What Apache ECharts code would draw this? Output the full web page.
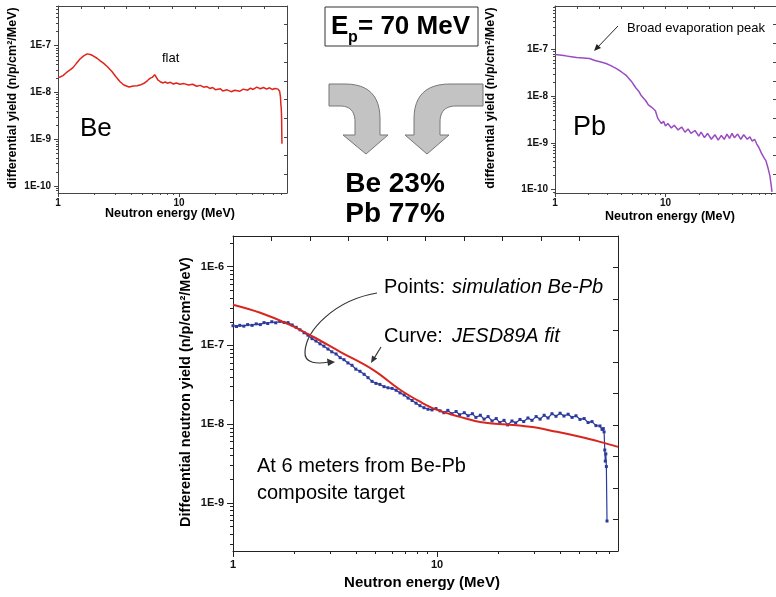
<!DOCTYPE html>
<html><head><meta charset="utf-8">
<script src="https://cdn.jsdelivr.net/npm/echarts@6/dist/echarts.min.js"></script>
<style>html,body{margin:0;padding:0;background:#fff}#c{width:776px;height:597px}</style>
</head><body><div id="c"></div>
<script>
// ---------- DATA ----------
// Be target spectrum (energy MeV, yield n/p/cm2/MeV)
const beE = [1.00,1.04,1.10,1.15,1.20,1.25,1.33,1.42,1.52,1.62,1.74,1.85,1.95,2.10,2.25,2.36,2.55,2.79,3.00,3.26,3.50,3.87,4.20,4.50,4.76,5.20,5.50,5.76,6.00,6.30,6.50,6.70,7.00,7.40,7.70,8.0,8.5,9.0,9.5,10.2,11,12,13,14,15,16,17,18,19,20,22,23,25,27,29,31.7,34,37,39,41,44,47,50,53,56,59,62,64,66,68,69,69.6,70,70.5,71];
const beY = [2.10e-8,2.15e-8,2.30e-8,2.55e-8,2.80e-8,3.00e-8,3.40e-8,4.20e-8,5.20e-8,6.00e-8,6.70e-8,6.50e-8,6.10e-8,5.40e-8,4.70e-8,4.30e-8,3.60e-8,2.80e-8,2.20e-8,1.70e-8,1.45e-8,1.31e-8,1.38e-8,1.40e-8,1.44e-8,1.60e-8,1.80e-8,2.00e-8,2.10e-8,2.40e-8,2.20e-8,1.85e-8,1.70e-8,1.60e-8,1.68e-8,1.58e-8,1.65e-8,1.52e-8,1.60e-8,1.50e-8,1.55e-8,1.44e-8,1.50e-8,1.36e-8,1.42e-8,1.30e-8,1.34e-8,1.22e-8,1.28e-8,1.15e-8,1.20e-8,1.08e-8,1.14e-8,1.04e-8,1.12e-8,1.06e-8,1.18e-8,1.12e-8,1.24e-8,1.16e-8,1.30e-8,1.20e-8,1.28e-8,1.18e-8,1.26e-8,1.16e-8,1.22e-8,1.12e-8,1.18e-8,1.05e-8,8.0e-9,5.4e-9,4.8e-9,3.0e-9,8.0e-10];
// Pb target spectrum
const pbE = [1.00,1.10,1.25,1.40,1.57,1.80,2.05,2.30,2.60,2.90,3.20,3.60,4.00,4.40,4.90,5.40,5.70,6.00,6.60,7.00,7.50,8.10,8.50,8.80,9.20,9.60,10.0,10.5,11.3,12.0,13,14,15,16,17,18.5,20,21,22.5,24,26,28,30,32,34,36,38,40,42,45,48,51,55,58,61,64,67,70,74,78,81,85,88,90,92];
const pbY = [7.8e-8,7.6e-8,7.3e-8,7.0e-8,6.7e-8,6.6e-8,6.4e-8,5.8e-8,5.4e-8,5.0e-8,4.5e-8,3.9e-8,3.3e-8,2.8e-8,2.1e-8,1.5e-8,1.3e-8,1.05e-8,8.1e-9,6.5e-9,5.8e-9,4.9e-9,3.4e-9,3.0e-9,2.6e-9,2.9e-9,2.3e-9,2.6e-9,2.1e-9,2.4e-9,1.9e-9,2.2e-9,1.7e-9,2.0e-9,1.6e-9,1.85e-9,1.4e-9,1.7e-9,1.3e-9,1.6e-9,1.2e-9,1.5e-9,1.15e-9,1.45e-9,1.2e-9,1.55e-9,1.25e-9,1.6e-9,1.3e-9,1.55e-9,1.2e-9,1.5e-9,1.2e-9,1.35e-9,1.1e-9,1.2e-9,9.5e-10,8.0e-10,6.0e-10,4.8e-10,4.2e-10,2.8e-10,2.0e-10,1.35e-10,9.0e-11];
// Composite Be-Pb simulation points
const blueE = [1.00,1.04,1.08,1.13,1.18,1.24,1.30,1.36,1.42,1.48,1.55,1.62,1.70,1.78,1.86,1.95,2.04,2.13,2.23,2.33,2.44,2.55,2.67,2.79,2.92,3.05,3.20,3.35,3.50,3.66,3.83,4.00,4.19,4.39,4.59,4.80,5.02,5.25,5.50,5.75,6.02,6.30,6.59,6.90,7.21,7.55,7.89,8.25,8.63,9.03,9.45,9.88,10.35,10.8,11.3,11.8,12.4,12.9,13.6,14.2,14.9,15.5,16.3,17.0,17.8,18.6,19.5,20.3,21.3,22.2,23.3,24.3,25.5,26.6,27.9,29.2,30.6,32.0,33.5,35.0,36.6,38.3,40.1,41.9,43.9,45.9,48.0,50.2,52.6,55.0,57.5,60.1,62.9,64.4,65.3,65.9,66.4,66.8,67.2,67.6,68.1];
const blueY = [1.78e-7,1.74e-7,1.80e-7,1.76e-7,1.84e-7,1.80e-7,1.88e-7,1.84e-7,1.95e-7,1.90e-7,2.00e-7,1.94e-7,2.02e-7,1.96e-7,1.95e-7,1.82e-7,1.70e-7,1.58e-7,1.45e-7,1.35e-7,1.22e-7,1.14e-7,1.05e-7,9.8e-8,9.0e-8,8.3e-8,7.8e-8,7.0e-8,6.6e-8,6.0e-8,5.6e-8,5.0e-8,4.7e-8,4.3e-8,3.9e-8,3.5e-8,3.3e-8,3.2e-8,3.0e-8,2.9e-8,2.85e-8,2.7e-8,2.5e-8,2.35e-8,2.15e-8,2.0e-8,1.85e-8,1.72e-8,1.62e-8,1.55e-8,1.52e-8,1.58e-8,1.48e-8,1.40e-8,1.50e-8,1.36e-8,1.45e-8,1.32e-8,1.40e-8,1.28e-8,1.36e-8,1.22e-8,1.30e-8,1.16e-8,1.25e-8,1.10e-8,1.18e-8,1.05e-8,1.12e-8,0.98e-8,1.10e-8,1.04e-8,1.15e-8,1.08e-8,1.20e-8,1.12e-8,1.25e-8,1.16e-8,1.30e-8,1.20e-8,1.36e-8,1.26e-8,1.38e-8,1.27e-8,1.34e-8,1.22e-8,1.28e-8,1.15e-8,1.18e-8,1.05e-8,1.08e-8,0.96e-8,0.95e-8,0.86e-8,0.88e-8,0.80e-8,4.7e-9,3.4e-9,4.2e-9,2.9e-9,5.9e-10];
// JESD89A fit curve
const fitE = [1,1.36,1.90,2.47,3.35,4.86,6.59,8.26,10,12.97,16.25,28.6,38.7,50.2,63.0,77.1];
const fitY = [3.29e-7,2.60e-7,1.83e-7,1.29e-7,8.32e-8,4.91e-8,2.74e-8,1.93e-8,1.52e-8,1.24e-8,1.07e-8,9.27e-9,8.0e-9,6.92e-9,5.97e-9,5.16e-9];
// tick labels
const smallYTicks = [-10,-9,-8,-7];
const bigYTicks = [-9,-8,-7,-6];
const xTicks = [0,1];

// ---------- CHART ----------
const FONT = '"Liberation Sans", Arial, Helvetica, sans-serif';
const L = Math.log10;
function pts(E, Y){ return E.map((e,i)=>[L(e), L(Y[i])]); }
function minorVals(lo, hi){ const out=[]; for(let d=Math.floor(lo); d<Math.ceil(hi); d++){ for(let k=2;k<=9;k++){ const v=d+L(k); if(v>lo+1e-6 && v<hi-1e-6) out.push(v);} } return out; }

const grids=[], xAxes=[], yAxes=[];
function panel(g, xr, yr, yTicks, o){
  const gi = grids.length;
  grids.push({left:g.l, top:g.t, width:g.w, height:g.h, containLabel:false});
  const ls = {color:o.col, width:1};
  const base = {gridIndex:gi, type:'value', splitLine:{show:false}, silent:true};
  const xi = xAxes.length, yi = yAxes.length;
  xAxes.push(Object.assign({}, base, {position:'bottom', min:xr[0], max:xr[1],
    axisLine:{show:true,onZero:false,lineStyle:ls},
    axisTick:{show:true,inside:false,length:o.maj,customValues:xTicks,lineStyle:ls},
    axisLabel:{show:true,customValues:xTicks,margin:o.xm,formatter:v=>String(Math.round(Math.pow(10,v))),
      fontSize:o.ls,fontWeight:'bold',fontFamily:FONT,color:'#111'}}));
  xAxes.push(Object.assign({}, base, {position:'bottom', min:xr[0], max:xr[1],
    axisLine:{show:false,onZero:false}, axisTick:{show:true,inside:false,length:o.min,customValues:minorVals(xr[0],xr[1]),lineStyle:ls},
    axisLabel:{show:false}}));
  xAxes.push(Object.assign({}, base, {position:'top', min:0, max:10, interval:1,
    axisLine:{show:true,onZero:false,lineStyle:ls}, axisTick:{show:true,inside:true,length:o.opp,lineStyle:ls}, axisLabel:{show:false}}));
  yAxes.push(Object.assign({}, base, {position:'left', min:yr[0], max:yr[1],
    axisLine:{show:true,onZero:false,lineStyle:ls},
    axisTick:{show:true,inside:false,length:o.maj,customValues:yTicks,lineStyle:ls},
    axisLabel:{show:true,customValues:yTicks,margin:o.ym,formatter:v=>'1E'+v,
      fontSize:o.ls,fontWeight:'bold',fontFamily:FONT,color:'#111'}}));
  yAxes.push(Object.assign({}, base, {position:'left', min:yr[0], max:yr[1],
    axisLine:{show:false,onZero:false}, axisTick:{show:true,inside:false,length:o.min,customValues:minorVals(yr[0],yr[1]),lineStyle:ls},
    axisLabel:{show:false}}));
  yAxes.push(Object.assign({}, base, {position:'right', min:0, max:10, interval:1,
    axisLine:{show:true,onZero:false,lineStyle:ls}, axisTick:{show:true,inside:true,length:o.opp,lineStyle:ls}, axisLabel:{show:false}}));
  return {xi, yi};
}
const so = {col:'#444', maj:4, min:2, opp:3, ls:10, xm:5, ym:7};
const pBe = panel({l:58,t:6,w:229,h:187}, [0,1.893], [-10.15,-6.15], smallYTicks, so);
const pPb = panel({l:555,t:6,w:222,h:187}, [0,2], [-10.07,-6.07], smallYTicks, so);
const pAll = panel({l:233,t:236,w:385,h:315}, [0,1.887], [-9.61,-5.61], bigYTicks, {col:'#222', maj:6, min:3, opp:5, ls:11, xm:8, ym:9});

function txt(x,y,text,size,o){ o=o||{};
  return {type:'text', x:x, y:y, rotation:o.rot||0, silent:true, z:100,
    style:{text:text, fill:o.color||'#000', fontSize:size, fontFamily:FONT, fontWeight:o.bold?'bold':'normal', fontStyle:o.italic?'italic':'normal',
      textAlign:o.align||'left', textVerticalAlign:'middle', align:o.align||'left', verticalAlign:'middle'}};
}
function outline(segs){
  const out=[]; let cur=null;
  segs.forEach(s=>{
    if(s.length===2){ out.push(s); cur=s; }
    else { const [cx,cy,ex,ey]=s; for(let i=1;i<=12;i++){ const t=i/12, a=(1-t)*(1-t), b=2*t*(1-t), c=t*t;
      out.push([a*cur[0]+b*cx+c*ex, a*cur[1]+b*cy+c*ey]); } cur=[ex,ey]; }
  });
  return out;
}
const arrowFill = '#c3c3c3', arrowStroke = '#777';
const leftArrow = outline([[329,84],[345,84],[380,84,380,119],[380,135],[388,135],[366,154],[343,135],[355,135],[355,122],[355,106,340,106],[329,106]]);
const rightArrow = outline([[483,84],[450,84],[414,84,414,119],[414,135],[405,135],[427,154],[449,135],[440,135],[440,122],[440,106,456,106],[483,106]]);
const graphics = [
  txt(13,98,'differential yield (n/p/cm\u00b2/MeV)',12.5,{bold:true,rot:Math.PI/2,align:'center'}),
  txt(491,98,'differential yield (n/p/cm\u00b2/MeV)',12.5,{bold:true,rot:Math.PI/2,align:'center'}),
  txt(186,392,'Differential neutron yield (n/p/cm\u00b2/MeV)',14.5,{bold:true,rot:Math.PI/2,align:'center'}),
  txt(170,214,'Neutron energy (MeV)',12.5,{bold:true,align:'center'}),
  txt(670,217,'Neutron energy (MeV)',12.5,{bold:true,align:'center'}),
  txt(422,583,'Neutron energy (MeV)',15,{bold:true,align:'center'}),
  txt(80,129,'Be',26),
  txt(573,128,'Pb',27),
  txt(162,58,'flat',13),
  txt(627,28,'Broad evaporation peak',13),
  {type:'line', silent:true, shape:{x1:618,y1:26,x2:596,y2:49}, style:{stroke:'#222',lineWidth:1}},
  {type:'polygon', silent:true, shape:{points:[[594,51],[601,48.1],[596.6,43.9]]}, style:{fill:'#222'}},
  {type:'rect', silent:true, shape:{x:325,y:7,width:153,height:39}, style:{fill:'#fff',stroke:'#333',lineWidth:1}},
  txt(331,27,'E',26,{bold:true}),
  txt(348,38,'p',16,{bold:true}),
  txt(358,27,'= 70 MeV',26,{bold:true}),
  {type:'polygon', silent:true, shape:{points:leftArrow}, style:{fill:arrowFill, stroke:arrowStroke, lineWidth:1}},
  {type:'polygon', silent:true, shape:{points:rightArrow}, style:{fill:arrowFill, stroke:arrowStroke, lineWidth:1}},
  txt(395,184,'Be 23%',28,{bold:true,align:'center'}),
  txt(395,214,'Pb 77%',28,{bold:true,align:'center'}),
  txt(384,287,'Points:',20),
  txt(452,287,'simulation Be-Pb',20,{italic:true}),
  txt(384,336,'Curve:',20),
  txt(452,336,'JESD89A fit',20,{italic:true}),
  {type:'bezierCurve', silent:true, shape:{x1:377,y1:293,cpx1:335,cpy1:300,cpx2:306,cpy2:330,x2:305,y2:352}, style:{fill:null, stroke:'#333', lineWidth:1.2}},
  {type:'bezierCurve', silent:true, shape:{x1:305,y1:352,cpx1:304,cpy1:364,cpx2:318,cpy2:364,x2:329,y2:362}, style:{fill:null, stroke:'#333', lineWidth:1.2}},
  {type:'polygon', silent:true, shape:{points:[[335,362],[327,358.5],[328,366]]}, style:{fill:'#333'}},
  {type:'line', silent:true, shape:{x1:381,y1:347,x2:373,y2:360}, style:{stroke:'#333',lineWidth:1.2}},
  {type:'polygon', silent:true, shape:{points:[[371,363],[377.2,358.5],[372,355.5]]}, style:{fill:'#333'}},
  txt(257,466,'At 6 meters from Be-Pb',20),
  txt(257,493,'composite target',20)
];

const chart = echarts.init(document.getElementById('c'), null, {renderer:'canvas'});
chart.setOption({
  animation:false,
  backgroundColor:'#fff',
  grid:grids, xAxis:xAxes, yAxis:yAxes,
  graphic:{elements:graphics},
  series:[
    {type:'line', xAxisIndex:pBe.xi, yAxisIndex:pBe.yi, data:pts(beE,beY), symbol:'none', lineStyle:{color:'#e2231c',width:1.5}, clip:true, silent:true},
    {type:'line', xAxisIndex:pPb.xi, yAxisIndex:pPb.yi, data:pts(pbE,pbY), symbol:'none', lineStyle:{color:'#9a4cc2',width:1.5}, clip:true, silent:true},
    {type:'line', xAxisIndex:pAll.xi, yAxisIndex:pAll.yi, data:pts(blueE,blueY), symbol:'rect', symbolSize:3, showSymbol:true,
      itemStyle:{color:'#2b3a9c'}, lineStyle:{color:'#2b3a9c',width:1.2}, clip:true, silent:true, z:2},
    {type:'line', xAxisIndex:pAll.xi, yAxisIndex:pAll.yi, data:pts(fitE,fitY), symbol:'none', smooth:0.4, lineStyle:{color:'#d8251d',width:2}, clip:true, silent:true, z:3}
  ]
});
</script></body></html>
